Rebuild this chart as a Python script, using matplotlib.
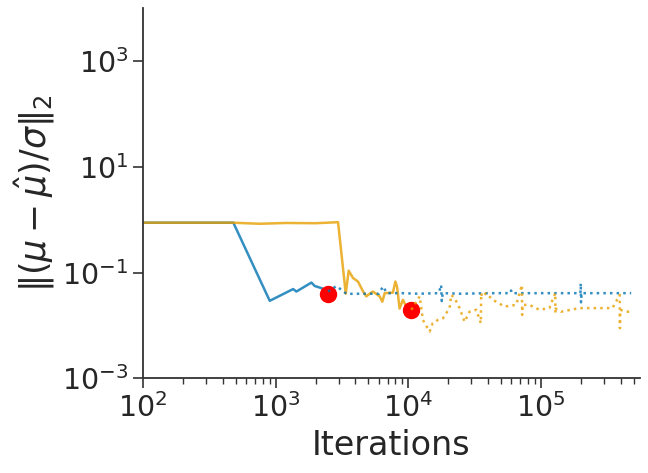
import matplotlib
matplotlib.use("Agg")
import matplotlib.pyplot as plt
import numpy as np
from matplotlib.ticker import LogLocator, NullLocator

# run 1 (blue): solid until the stop point, dotted afterwards
blue_it = [100, 480, 903, 1355, 1435, 1862, 1973, 2218, 2485]
blue_err = [0.88, 0.88, 0.0294, 0.049, 0.044, 0.065, 0.056, 0.051, 0.044]
blue_it_after = [2485, 2877, 3420, 4500, 6000, 6460, 6900, 9000, 12000, 17000, 17700, 17900,
                 18200, 25000, 40000, 59000, 59700, 60500, 90000, 150000, 199000, 200000,
                 201000, 203000, 300000, 480000]
blue_err_after = [0.044, 0.056, 0.0398, 0.040, 0.040, 0.055, 0.041, 0.041, 0.040, 0.041, 0.0587,
                  0.029, 0.041, 0.040, 0.041, 0.041, 0.046, 0.041, 0.041, 0.041, 0.041, 0.063,
                  0.0275, 0.041, 0.041, 0.041]
blue_stop = (2485, 0.040)

# run 2 (orange)
orange_it = [100, 300, 480, 760, 1200, 2000, 2957, 3380, 3556, 3840, 4180, 4560, 4830, 5120,
             5420, 6090, 6380, 6640, 7670, 8000, 8230, 8610, 9120, 9680, 10560]
orange_err = [0.88, 0.88, 0.88, 0.84, 0.87, 0.86, 0.90, 0.040, 0.109, 0.079, 0.068, 0.0444,
              0.0357, 0.040, 0.044, 0.0357, 0.0283, 0.041, 0.042, 0.068, 0.055, 0.021, 0.0307,
              0.0229, 0.0199]
orange_it_after = [10560, 11500, 12200, 12900, 14500, 15300, 15800, 16700, 18250, 20500, 21100,
                   22400, 24400, 26600, 29000, 32600, 35300, 35500, 36000, 38700, 43400, 53200,
                   65200, 72000, 72300, 72700, 82000, 97600, 116000, 128500, 128800, 129200,
                   142000, 195000, 261000, 347000, 394000, 395000, 396500, 438000, 480000]
orange_err_after = [0.0199, 0.028, 0.0357, 0.0128, 0.0077, 0.0111, 0.0114, 0.0128, 0.0137, 0.0214,
                    0.038, 0.033, 0.0214, 0.0118, 0.0183, 0.0199, 0.0111, 0.041, 0.035, 0.041,
                    0.0307, 0.0229, 0.0246, 0.0587, 0.0159, 0.0246, 0.0246, 0.0199, 0.0214, 0.041,
                    0.0174, 0.021, 0.0183, 0.0214, 0.0214, 0.0214, 0.038, 0.0089, 0.020, 0.0183,
                    0.0183]
orange_stop = (10560, 0.0199)

blue = "#0072B2"
orange = "#E69F00"
txt = "#262626"

plt.rcParams["font.family"] = "DejaVu Sans"
plt.rcParams["mathtext.fontset"] = "dejavusans"

fig = plt.figure(figsize=(6.48, 4.73), dpi=100)
ax = fig.add_axes([0.2207, 0.1998, 0.767, 0.783])

for it, err, it2, err2, stop, c in [
    (blue_it, blue_err, blue_it_after, blue_err_after, blue_stop, blue),
    (orange_it, orange_err, orange_it_after, orange_err_after, orange_stop, orange),
]:
    ax.plot(it, err, color=c, alpha=0.8, lw=1.8, zorder=2)
    ax.plot([stop[0]], [stop[1]], "o", color="red", ms=11.5, zorder=3)
    ax.plot(it2, err2, color=c, alpha=0.8, lw=1.8, ls=":", zorder=4)

ax.set_xscale("log")
ax.set_yscale("log")
ax.set_xlim(100, 5.6e5)
ax.set_ylim(1e-3, 1e4)
ax.set_yticks([1e-3, 1e-1, 1e1, 1e3])
ax.yaxis.set_minor_locator(NullLocator())
ax.xaxis.set_major_locator(LogLocator(base=10))
ax.xaxis.set_minor_locator(LogLocator(base=10, subs=np.arange(2, 10), numticks=20))

for s in ["top", "right"]:
    ax.spines[s].set_visible(False)
for s in ["left", "bottom"]:
    ax.spines[s].set_color("#333333")
    ax.spines[s].set_linewidth(1.3)

ax.tick_params(axis="both", which="major", labelsize=20.5, length=7, width=1.2,
               colors="#333333", labelcolor=txt)
ax.tick_params(axis="x", which="minor", length=4, width=1.0, colors="#333333")

ax.set_xlabel("Iterations", fontsize=24, color=txt)
ax.set_ylabel(r"$\Vert(\mu-\hat{\mu})/\sigma\Vert_2$", fontsize=25, color=txt)

fig.savefig("out.png", dpi=100)
